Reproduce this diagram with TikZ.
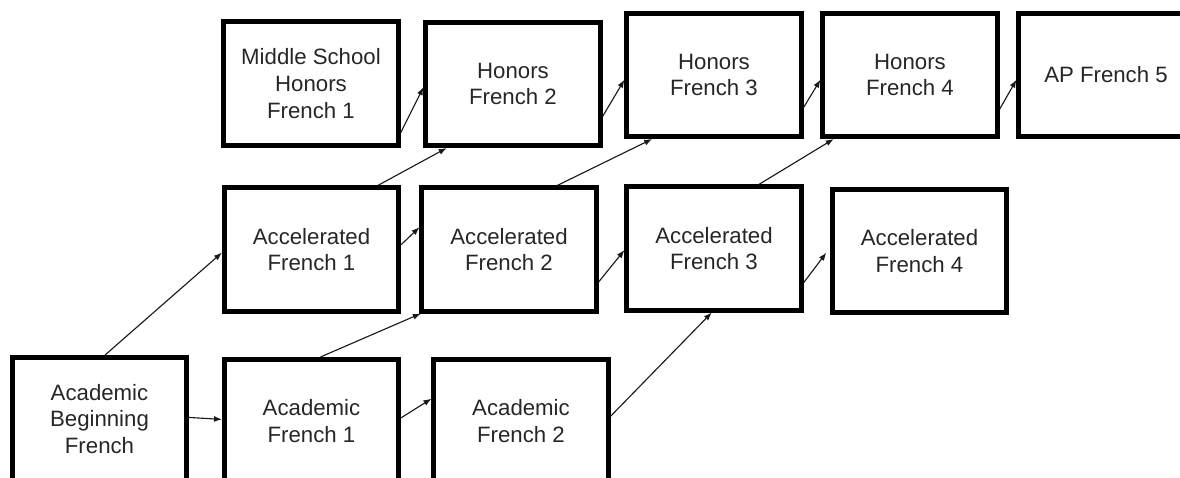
\documentclass[tikz,border=0pt]{standalone}
\usepackage{fontspec}
\setmainfont{Liberation Sans}
\usepackage{tikz}
\usetikzlibrary{arrows.meta}
\tikzset{
	course/.style={draw=black, line width=3.56pt, minimum width=4.35cm, minimum height=3.075cm, inner sep=0pt, align=center, text=black!85, font=\fontsize{15.8}{19}\selectfont},
	path/.style={draw=black!90, line width=0.8pt, -{Latex[length=2mm,width=1.5mm]}}
}

\begin{document}
\begin{tikzpicture}[x=0.025cm, y=-0.025cm]
			%%%%% START %%%%%
			
			\useasboundingbox (0, 0) rectangle (1180, 478);
			\clip (0, 0) rectangle (1180, 478);
			
			% honors row
			\node[course] (ms1) at (311, 83.5) {Middle School\\Honors\\French 1};
			\node[course] (hon2) at (513, 84) {Honors\\French 2};
			\node[course] (hon3) at (714, 75) {Honors\\French 3};
			\node[course] (hon4) at (910, 75) {Honors\\French 4};
			\node[course] (ap5) at (1106, 75) {AP French 5};
			
			% accelerated row
			\node[course] (acc1) at (311.5, 249.5) {Accelerated\\French 1};
			\node[course] (acc2) at (509, 249.5) {Accelerated\\French 2};
			\node[course] (acc3) at (714, 248.5) {Accelerated\\French 3};
			\node[course] (acc4) at (919.5, 251) {Accelerated\\French 4};
			
			% academic row
			\node[course] (acbeg) at (99.5, 419) {Academic\\Beginning\\French};
			\node[course] (acad1) at (311.5, 421) {Academic\\French 1};
			\node[course] (acad2) at (521, 421) {Academic\\French 2};
			
			\draw[path] (ms1.-29) -- (hon2.182);
			\draw[path] (acc1.44) -- (hon2.224);
			\draw[path] (hon2.-20) -- (hon3.183);
			\draw[path] (acc2.53) -- (hon3.226);
			\draw[path] (hon3.-20) -- (hon4.183);
			\draw[path] (acc3.55) -- (hon4.220);
			\draw[path] (hon4.-21) -- (ap5.183);
			
			\draw[path] (acbeg.85) -- (acc1.182);
			\draw[path] (acbeg.1) -- (acad1.179);
			\draw[path] (acc1.3) -- (acc2.166);
			\draw[path] (acad1.82) -- (acc2.216);
			\draw[path] (acad1.2) -- (acad2.166);
			\draw[path] (acc2.-20) -- (acc3.181);
			\draw[path] (acad2.3) -- (acc3.268);
			\draw[path, shorten >=0.15cm] (acc3.-21) -- (acc4.178);
			
			%%%%% END %%%%%
		\end{tikzpicture}
\end{document}
